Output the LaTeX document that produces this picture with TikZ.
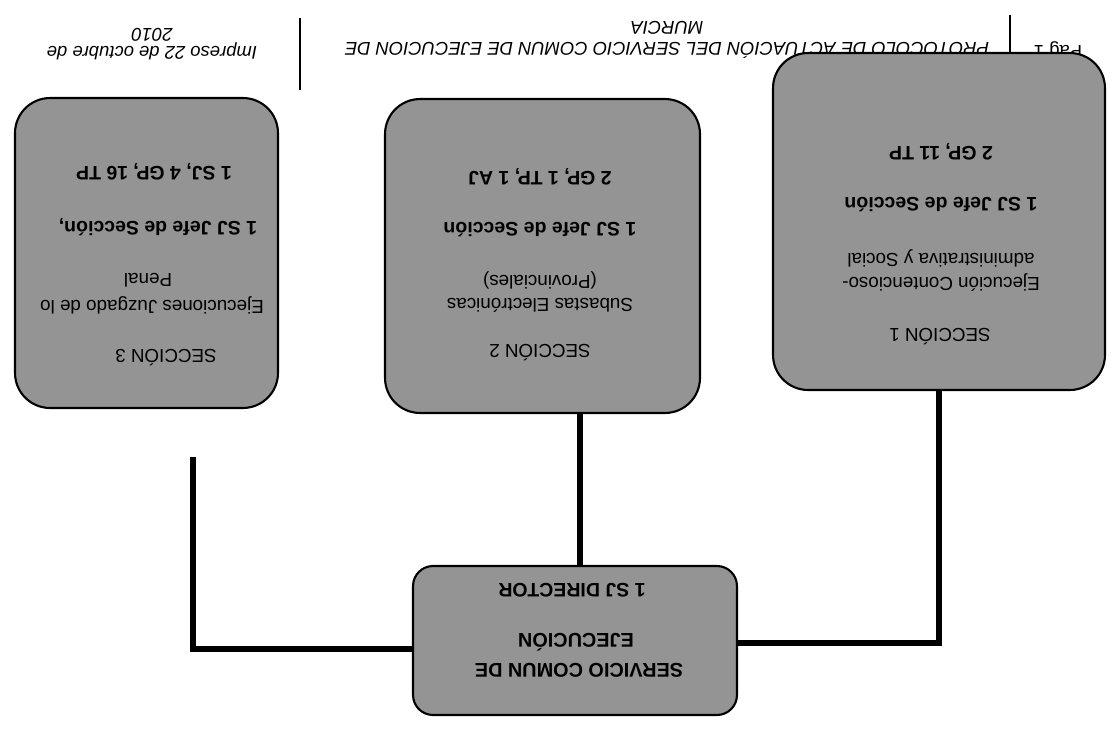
\documentclass[tikz,border=0pt]{standalone}
\usepackage{fontspec}
\setmainfont{Liberation Sans}
\usetikzlibrary{calc, positioning}
\tikzset{
  secbox/.style={draw=black, line width=1.2pt, fill=black!42, rounded corners=0.7cm, inner sep=0pt},
  dirbox/.style={secbox, rounded corners=0.4cm},
  conn/.style={line width=3pt},
  txt/.style={rotate=180, inner sep=0pt, font=\fontsize{10.7}{12}\selectfont},
  txtb/.style={rotate=180, inner sep=0pt, font=\fontsize{11.1}{12}\selectfont\bfseries},
  head/.style={rotate=180, inner sep=0pt, align=center, font=\fontsize{10.5}{12}\selectfont\itshape},
}

\begin{document}
\begin{tikzpicture}[x=0.02cm, y=-0.02cm]
  \useasboundingbox (0,0) rectangle (1112,731);

  % --- page header (printed upside down) ---
  \draw[line width=0.6pt] (300,18) -- (300,90);
  \draw[line width=0.6pt] (1010,15) -- (1010,53);
  \node[head] (fecha) at (152,44) {Impreso 22 de octubre de\\[-1.5pt]2010};
  \node[head] (titulo) at (667,40) {PROTOCOLO DE ACTUACIÓN DEL SERVICIO COMUN DE EJECUCION DE\\MURCIA};
  \node[rotate=180, inner sep=0pt, font=\fontsize{10.5}{12}\selectfont] (pag) at (1058,50) {Pag 1};

  % --- boxes ---
  \node[secbox, minimum width=6.64cm, minimum height=6.74cm] (s1) at (939,221.5) {};
  \node[secbox, minimum width=6.3cm, minimum height=6.28cm] (s2) at (542.5,256) {};
  \node[secbox, minimum width=5.26cm, minimum height=6.2cm] (s3) at (146.5,253) {};
  \node[dirbox, minimum width=6.48cm, minimum height=2.98cm] (dir) at (575,640.5) {};

  % --- connectors ---
  \coordinate (c3) at (193,457);
  \draw[conn] (s1.south) |- ([yshift=-0.05cm]dir.east);
  \draw[conn] ([xshift=0.1cm]s2.south -| dir.north) -- ([xshift=0.1cm]dir.north);
  \draw[conn] (c3) |- ([yshift=-0.17cm]dir.west);

  % --- seccion 1 ---
  \node[txt] (s1t) at (940,337) {SECCIÓN 1};
  \node[txt] (s1a) at (941,282) {Ejecución Contencioso-};
  \node[txt] (s1b) at (941,258) {administrativa y Social};
  \node[txtb] (s1c) at (941,205) {1 SJ Jefe de Sección};
  \node[txtb] (s1d) at (941,152) {2 GP, 11 TP};

  % --- seccion 2 ---
  \node[txt] (s2t) at (540,353) {SECCIÓN 2};
  \node[txt] (s2a) at (540,305) {Subastas Electrónicas};
  \node[txt] (s2b) at (540,280) {(Provinciales)};
  \node[txtb] (s2c) at (540,230) {1 SJ Jefe de Sección};
  \node[txtb] (s2d) at (540,177) {2 GP, 1 TP, 1 AJ};

  % --- seccion 3 ---
  \node[txt] (s3t) at (166,358) {SECCIÓN 3};
  \node[txt] (s3a) at (152,305) {Ejecuciones Juzgado de lo};
  \node[txt] (s3b) at (148,280) {Penal};
  \node[txtb] (s3c) at (158,227) {1 SJ Jefe de Sección,};
  \node[txtb] (s3d) at (154,172) {1 SJ, 4 GP, 16 TP};

  % --- servicio comun ---
  \node[txtb, font=\fontsize{11.3}{12}\selectfont\bfseries] (d1) at (579,670) {SERVICIO COMUN DE};
  \node[txtb, font=\fontsize{11.3}{12}\selectfont\bfseries] (d2) at (576,642) {EJECUCIÓN};
  \node[txtb] (d3) at (572,590) {1 SJ DIRECTOR};
\end{tikzpicture}
\end{document}
